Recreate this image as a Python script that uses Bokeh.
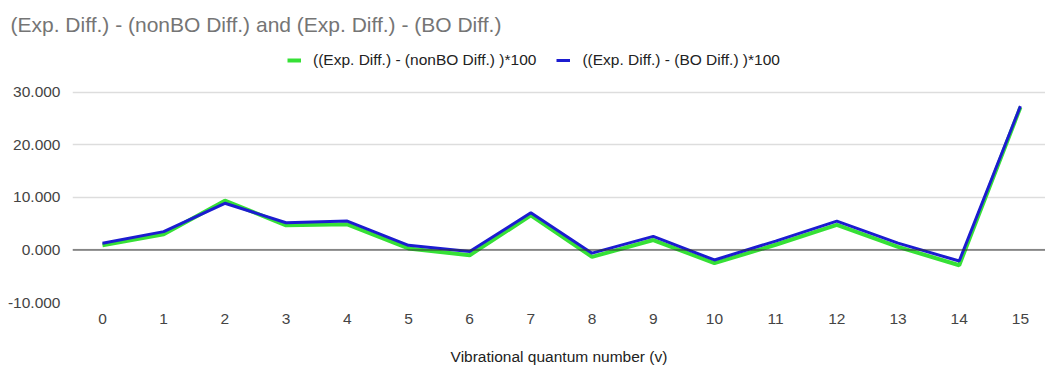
from bokeh.plotting import figure
from bokeh.models import Legend, LegendItem, Span, NumeralTickFormatter, FixedTicker, Range1d
from bokeh.embed import file_html
from bokeh.resources import INLINE

v = list(range(16))
nonbo = [0.9, 3.0, 9.4, 4.7, 4.9, 0.3, -1.0, 6.6, -1.3, 1.9, -2.5, 1.0, 4.8, 0.6, -2.9, 27.2]
bo = [1.3, 3.5, 8.9, 5.2, 5.5, 0.9, -0.3, 7.1, -0.6, 2.6, -1.9, 1.7, 5.5, 1.3, -2.1, 27.4]
y_ticks = [-10, 0, 10, 20, 30]
title_text = "(Exp. Diff.) - (nonBO Diff.) and (Exp. Diff.) - (BO Diff.)"
series_names = ["((Exp. Diff.) - (nonBO Diff.) )*100", "((Exp. Diff.) - (BO Diff.) )*100"]

FONT = "Liberation Sans"

p = figure(width=1045, height=368, output_backend="svg", toolbar_location=None,
           x_range=Range1d(-0.49, 15.41), y_range=Range1d(-10, 38.95),
           min_border_left=72, min_border_right=0, min_border_top=45, min_border_bottom=66,
           title=title_text)
p.outline_line_color = None
p.title.text_font = FONT
p.title.text_font_size = "21px"
p.title.text_font_style = "normal"
p.title.text_color = "#757575"
p.title.offset = -62
p.title.standoff = 19

g = p.line(v, nonbo, line_color="#36e036", line_width=4)
b = p.line(v, bo, line_color="#1c1cd0", line_width=3)

p.add_layout(Span(location=0, dimension="width", line_color="#333333", line_width=1))

p.xgrid.grid_line_color = None
p.ygrid.grid_line_color = "#dddddd"
p.ygrid.grid_line_width = 1.5
p.yaxis.ticker = FixedTicker(ticks=y_ticks)
p.xaxis.ticker = FixedTicker(ticks=v)
p.yaxis.formatter = NumeralTickFormatter(format="0.000")
for ax in (p.xaxis, p.yaxis):
    ax.axis_line_color = None
    ax.major_tick_line_color = None
    ax.minor_tick_line_color = None
    ax.major_label_text_font = FONT
    ax.major_label_text_font_size = "15.5px"
    ax.major_label_text_color = "#444444"
p.xaxis.major_label_standoff = 5
p.yaxis.major_label_standoff = 6
p.xaxis.axis_label = "Vibrational quantum number (v)"
p.xaxis.axis_label_text_font = FONT
p.xaxis.axis_label_text_font_size = "15.5px"
p.xaxis.axis_label_text_font_style = "normal"
p.xaxis.axis_label_text_color = "#222222"
p.xaxis.axis_label_standoff = 21

legend = Legend(items=[LegendItem(label=series_names[0], renderers=[g]),
                       LegendItem(label=series_names[1], renderers=[b])],
                orientation="horizontal", location=(215, 233),
                label_text_font=FONT, label_text_font_size="15.5px", label_text_color="#222222",
                glyph_width=14, glyph_height=10, label_standoff=12, spacing=20, padding=4, margin=0,
                border_line_color=None, background_fill_alpha=0)
p.add_layout(legend)

open("out.html", "w").write(file_html(p, INLINE))
